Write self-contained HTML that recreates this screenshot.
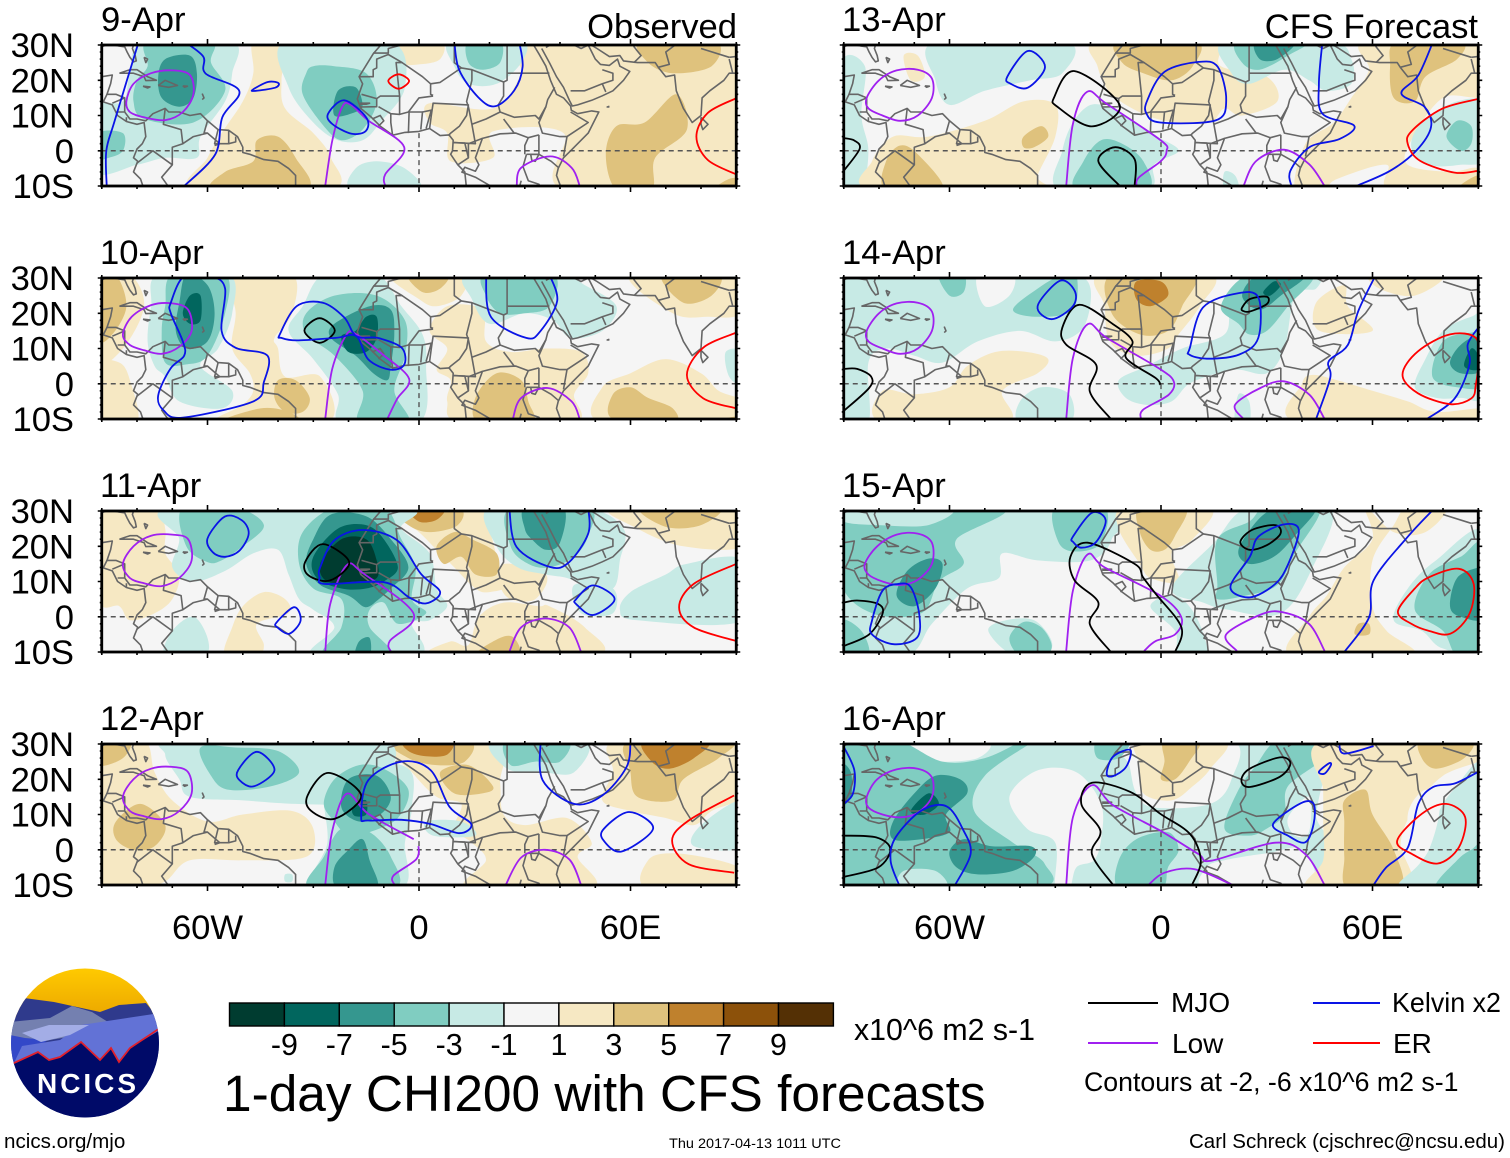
<!DOCTYPE html>
<html lang="en">
<head>
<meta charset="utf-8">
<title>1-day CHI200 with CFS forecasts</title>
<style>
html,body{margin:0;padding:0;background:#fff;}
svg{display:block;}
text{font-family:"Liberation Sans",sans-serif;fill:#000;}
</style>
</head>
<body>
<svg id="chart" xmlns="http://www.w3.org/2000/svg" width="1510" height="1158" viewBox="0 0 1510 1158">
  <defs>
    <clipPath id="logo-clip"><ellipse cx="85" cy="1043" rx="74" ry="74.5"/></clipPath>
    <linearGradient id="logo-sky" x1="0" y1="0" x2="0" y2="1"><stop offset="0" stop-color="#ffca00"/><stop offset="1" stop-color="#eba600"/></linearGradient>
  </defs>
  <g id="panels"></g>
  <g font-size="34.6">
    <text x="101" y="31">9-Apr</text>
    <text x="100" y="264">10-Apr</text>
    <text x="100" y="497">11-Apr</text>
    <text x="100" y="730">12-Apr</text>
    <text x="842" y="31">13-Apr</text>
    <text x="842" y="264">14-Apr</text>
    <text x="842" y="497">15-Apr</text>
    <text x="842" y="730">16-Apr</text>
    <text x="737" y="38" text-anchor="end">Observed</text>
    <text x="1478" y="38" text-anchor="end">CFS Forecast</text>
  </g>
  <g id="colorbar"></g>
  <text x="854" y="1040" font-size="30.3">x10^6 m2 s-1</text>
  <text x="223" y="1111" font-size="51.4">1-day CHI200 with CFS forecasts</text>
  <g font-size="28">
    <line x1="1088" y1="1003" x2="1158" y2="1003" stroke="#000" stroke-width="2"/>
    <text x="1171" y="1012">MJO</text>
    <line x1="1313" y1="1003" x2="1380" y2="1003" stroke="#0a14e6" stroke-width="2"/>
    <text x="1392" y="1012" textLength="109" lengthAdjust="spacingAndGlyphs">Kelvin x2</text>
    <line x1="1088" y1="1043" x2="1158" y2="1043" stroke="#a020f0" stroke-width="2"/>
    <text x="1172" y="1053">Low</text>
    <line x1="1313" y1="1043" x2="1380" y2="1043" stroke="#f00" stroke-width="2"/>
    <text x="1393" y="1053">ER</text>
    <text x="1084" y="1091" font-size="26.7">Contours at -2, -6 x10^6 m2 s-1</text>
  </g>
  <text x="4" y="1148" font-size="20.6">ncics.org/mjo</text>
  <text x="669" y="1148" font-size="14" textLength="172" lengthAdjust="spacingAndGlyphs">Thu 2017-04-13 1011 UTC</text>
  <text x="1189" y="1148" font-size="20.6" textLength="316" lengthAdjust="spacingAndGlyphs">Carl Schreck (cjschrec@ncsu.edu)</text>
  <g clip-path="url(#logo-clip)">
    <rect x="10" y="968" width="150" height="50" fill="url(#logo-sky)"/>
    <polygon points="10,1010 24,998 54,1002 100,1012 119,1005 146,1003 160,1020 160,1120 10,1120" fill="#2f3a8c"/>
    <polygon points="10,1022 50,1018 72,1006 92,1012 108,1022 80,1035 50,1040 10,1050" fill="#7480b0"/>
    <polygon points="10,1035 25,1038 48,1040 14,1064 10,1064" fill="#3348c8"/>
    <polygon points="81,1025 160,1013 160,1032 130,1048 119,1062 111,1048 100,1060 81,1042 60,1057 49,1060 38,1052 14,1063 22,1046 60,1040" fill="#6272d6"/>
    <polygon points="22,1033 49,1025 89,1025 70,1035 41,1042" fill="#a3ade6"/>
    <polygon points="10,1064 14,1063 38,1052 49,1060 60,1057 81,1042 100,1060 111,1048 119,1062 130,1048 160,1030 160,1120 10,1120" fill="#000a68"/>
    <polyline points="10,1064 14,1063 38,1052 49,1060 60,1057 81,1042 100,1060 111,1048 119,1062 130,1048 160,1028" fill="none" stroke="#e0202c" stroke-width="1.8"/>
    <text x="37" y="1093" font-size="28" font-weight="bold" style="fill:#fff" textLength="99" lengthAdjust="spacing">NCICS</text>
  </g>
</svg>
<script>
/* ---------- axis values ---------- */
const lonMajorTicks = [-60, 0, 60];
const lonTickLabels = ['60W', '0', '60E'];
const latMajorTicks = [30, 20, 10, 0, -10];
const latTickLabels = ['30N', '20N', '10N', '0', '10S'];

/* ---------- colour scale ---------- */
const colorbarTicks = [-9, -7, -5, -3, -1, 1, 3, 5, 7, 9];
const colorbarColors = ['#003c30', '#01665e', '#35978f', '#80cdc1', '#c7eae5', '#f5f5f5', '#f6e8c3', '#dfc27d', '#bf812d', '#8c510a', '#543005'];

/* ---------- map outlines [lon,lat,...] ---------- */
const coastlines = [
 [-80,31,-81,30,-81.3,29,-80.5,27,-80.2,25.5,-81,25.2,-82,26.5,-82.8,28,-83.5,29.5,-85,29.7,-88,30.3,-90,29.5],
 [-90,21,-87,21.5,-87.5,19,-88.5,16,-86,16,-83.5,15,-83.5,11,-82,9,-80,9,-77.5,8.5,-75.5,10.5,-72,12,-71,11,-68,11,-65,10,-62,10.5,-60,8.5,-57,6,-54,5.8,-51.5,4,-50,1,-50,-0.5,-48,-1,-44,-2.5,-40,-3,-37,-5,-35,-7,-35,-11],
 [-90,14,-87,13,-85.5,10,-83,8.3,-80,7.5,-78,8,-77.5,4,-78.5,2,-80,0.5,-81,-2,-79.8,-3,-81,-6,-79,-8,-78,-11],
 [-10,31,-13,27.5,-17,21,-16,19,-17.5,14.7,-16.5,12,-13.5,9.5,-11,7,-7.5,4.4,-4,5.2,0,5.5,3,6.3,6,4.3,8.5,4.5,9.7,3,9.5,0,9,-1,11,-4,13,-6,13.5,-11],
 [40.5,-11,39,-7,39.5,-5,41,-2,43,0,48,5,51,11,49,11.3,45,10.5,43.2,11.5,43,12.7,41,15,39,16,37.3,20,36,24,34,27.5,32.5,30,32.3,31],
 [34.8,29,37,25,39,21,41,18,42.8,14,43.5,12.7,45,13,49,14.3,52,15.6,55,17,58,20,59.8,22.5,57,24,56.3,26,54,24.2,51.5,24.5,50,26,48.5,29,48,30,50,31],
 [48,30.5,50.5,29,54,26.7,57,27,58,25.5,62,25,67,25,68,23.5,70,21,72.5,21.5,73,17,75,12,77.5,8,80,10,80.3,15,82.5,17,86.5,20,88,22,91,22],
 [80,9.5,82,7.5,80.5,6,80,7.5,80,9.5],
 [31.7,-1,34,-1,33,-3,32,-2.7,31.7,-1],
 [-85,22,-82,23,-80,23,-77,21,-74.5,20,-77.5,19.9,-78,21,-81,22,-85,22],
 [-74,18.5,-72,20,-68.5,18.5,-71,18,-74,18.5],
 [-78.3,18.3,-76.3,18.1,-77,17.8,-78.3,18.3],
 [-67,18.4,-65.7,18.3,-66.5,18,-67,18.4],
 [-78,26.5,-77.5,25,-77,26,-78,26.5],
 [-61.5,16.2,-61,15,-61.5,14.5],
 [54,12.6,53.4,12.4,54,12.4]
];
const borders = [
 [-17,21,-13,21,-13,23,-12,23.5,-12,26,-8.7,27.3,-4.8,25,-6.5,25,-5.5,15.5,-11,15.5,-12,14.8,-16.3,16],
 [-13,27.7,-8.7,27.7,-8.7,29,-5,30,-1,32],
 [-4.8,25,1,21,3.3,19,3.3,16,4,15.7],[3.3,19,6,19.4,12,23.5,10,25,10,31],
 [15,23,15,20,13.5,14,14,12.5],[12,23.5,15,23,24,19.5,24,15.5,22.5,13,23,11],
 [25,31,25,20,24,19.5],[25,22,37,22],
 [3,6.3,3.5,10,4,13.5,14,13,13.5,10,11.5,7,9,5,8.5,4.5],
 [-5.5,10.3,-3,11,0,15,4,15.5],[-11.5,12.5,-8,10.5,-5.5,10.3,-5.5,15.5],
 [-3,5,-2.8,11,1,11,0.5,6],[2,6.3,3.5,11.5,1,11],[-7.5,4.4,-8,8,-8,10.5],
 [-12,14.8,-12,12.5,-16.7,12.4],[-13.3,9,-11,10,-10,8.5,-11.5,7],
 [-16.7,13.5,-14,13.5,-15,13.2,-16.7,13.2],
 [23,11,27,9.5,33,10,34,9,36,12.5,36.5,14.5,38.5,18],
 [36,12.5,34,8,35,5,40,4,42,4,48,8,43,11],[42,4,41,-1.6],
 [34,4.5,34,1,34,-1,37.5,-3,39.5,-4.7],
 [30.5,-1,34,-1],[30.5,-1,29.5,-4.5,31,-8.5,34,-9.5,35,-11.5],
 [30,-1,30,1.5,31,3.7,34,4.5],
 [12.2,-6,13,-4.7,16,-5.8,17,-4,16,-2,18,3.5,23,4.8,27.5,5,31,3.7],
 [11,-4,14,-2,14,2,18,3.5],[9.8,2.3,16,2,15,7.5,14,12.5],[9.8,2.3,13,2.2,14,-2],
 [15,7.5,19,9,23,11],[24,9,27,5],[12,-6,16,-7.5,22,-11,22,-13],[22,-11,28,-12,29,-8.5],
 [43,17,47,17,52,19,55,20,55,22,52,23],[52,19,53,16.7],
 [61,25,63,27,61,29.5,61,31],[36,29.3,38,30.5,42,31],[42,31,46,29,48,30],
 [68,23.7,71,24.5,70,28,74,31],[80,29,88,26.5],[88,26,89,22],[88,26.5,92,27],
 [-72,12,-72.5,7.5,-67.5,6,-67,2,-70,1,-70,-4],[-80,-3.5,-75.5,0,-70,-4,-73,-7.5,-70.5,-11],
 [-60,8.5,-61,5,-60,5,-56.5,2,-58,1.5],[-67,2,-64,4,-60,5],
 [-57,6,-58,2,-54,2,-54,5.8],[-52,4,-52,2.5,-54,2],[-70.5,-11,-66,-10,-60,-13],
 [-92,18,-91,16,-92,14.5],[-88.5,16,-89.5,14],[-83.5,15,-87,13.5],[-85.5,11,-83.7,11],[-83,8.3,-83,9.5]
];

/* ---------- shaded anomalies: [value, lon,lat, lon,lat, ...] ---------- */
const fillsApr09 = [
 [2,30,31,92,31,92,-11,41,-11,41,5,21,5.5,21,-2,9,-3,8,5,3,8,3,13.5,21,12,29,22],
 [2,-47,31,-38,31,-39,20,-38,12,-30,5,-25,-2,-25,-11,-64,-11,-60,-2,-56,5,-50,14,-47,22],
 [2,-8,31,6,31,6,26,0,24.5,-5,25],
 [4,-58,-11,-55,-6,-47,-3,-46,3,-40,4,-35,-2,-32,-11],
 [4,63,31,84,31,83,24,72,22,65,25],
 [4,73,16,76,6,67,-2,66,-11,56,-11,53,-1,56,7,64,8],
 [4,84,-11,88,-8,92,-8,92,-11],
 [-2,-78,31,-53,31,-53,22,-55,14,-62,4,-63,-2,-72,-2,-80,-4,-92,-6,-92,12,-84,14,-82,22],
 [-4,-77,31,-59,31,-59,25,-55,17,-64,8,-78,9,-81,14,-80,20,-77,24],
 [-6,-72,26,-65,27,-63,22,-64,15,-68,12.5,-73,15,-74,21],
 [-4,-91,5,-84,5,-84,0,-88,-2,-91,-2],
 [-2,-38,31,-8,31,-4,18,-11,8,-16,3,-23,3,-30,8,-37,18],
 [-4,-30,24,-24,24,-15,22,-12,14,-16,6,-22,3,-27,7,-33,16,-32,22],
 [-6,-23,17,-18,18,-16,13,-18,11,-24,10],
 [-2,-19,-11,-18,-5,-12,-3,-4,-5,0,-11],
 [-2,9,31,29,31,29,25,22,19,14,19,10,24],
 [-4,14,31,23,31,23,25,18,23,14,25]
];
const fillsApr10 = [
 [2,-91,31,-82,31,-78,22,-84,10,-91,7],
 [4,-91,31,-86,31,-83,22,-87,14,-91,13],
 [2,-91,5,-85,6,-82,1,-80,-11,-91,-11],
 [2,-53,31,-36,31,-36,20,-41,13,-40,10,-38,2,-28,2,-26,-11,-57,-11,-50,-6,-47,-2,-48,3,-53,10,-52,20],
 [4,-40,1,-35,1,-31,-4,-33,-8,-38,-8,-41,-4],
 [4,-56,-11,-45,-7,-37,-8,-35,-11],
 [2,3,15,8,22,18,21,19,12,26,9,36,10,46,9,48,3,44,-3,44,-11,12,-11,8,-5,9,1,5,4,8,10],
 [4,17,-11,16,-4,22,3,29,1,31,-5,32,-11],
 [2,-8,31,12,31,12,25,5,22,0,24],
 [4,-3,31,8,31,6,27,1,26],
 [2,60,31,91,31,91,20,82,19,72,20],
 [4,69,31,85,31,83,25,75,23],
 [2,52,-11,52,-1,60,3,70,7,80,3,85,-2,92,-5,92,-11],
 [4,55,-10,55,-3,60,-1,65,-4,72,-7,72,-11],
 [4,82,-11,92,-9,92,-11],
 [-2,87,9,92,9,92,0,88,2],
 [-2,-74,31,-54,31,-53,20,-57,10,-62,5,-53,-2,-56,-7,-68,-5,-72,2,-75,5,-77,12,-76,22],
 [-4,-70,31,-55,31,-55,20,-60,8,-66,5.5,-72,6,-73,15,-72,22],
 [-6,-66,31,-60,28,-58,20,-60,12,-66,10,-69,15,-68,23],
 [-8,-65,25,-62,25,-62,18,-65,17,-67,20],
 [-2,-27,31,-12,31,-5,22,1,14,2,5,0,-11,-22,-11,-23,-3,-30,7,-37,15,-33,22],
 [-4,-24,25,-12,25,-4,18,-4,8,-7,-2,-3,-11,-17,-11,-16,-2,-24,8,-32,14,-32,20],
 [-6,-14,22,-8,21,-7,14,-8,5,-9,1,-13,3,-18,8,-25,13,-24,17],
 [-8,-15,19,-12,19,-12,13,-15,9,-20,9,-22,13.5,-18,15],
 [-2,14,31,40,31,47,28,56,22,52,15,43,13,38,18,30,20,20,17,15,24],
 [-4,19,31,38,31,37,22,30,20,23,20,19,25]
];
const fillsApr11 = [
 [2,-91,31,-75,31,-72,25,-72,18,-68,12,-70,5,-75,1,-82,-1,-85,3,-91,5],
 [2,-55,-11,-53,-3,-50,3,-44,7,-38,5,-37,1,-46,-2,-44,-8,-46,-11],
 [-2,-72,-11,-70,-4,-64,0,-60,-6,-61,-11],
 [2,-8,31,18,31,20,25,23,14,26,9,20,7,16,8,10,14,5,19,0,24],
 [2,5,-11,9,-7,14,-8,17,0,24,4,34,3,37,3,47,-3,50,-11],
 [2,24,15,36,12,33,5,26,5,23,9],
 [4,16,-11,23,-6,27,-6,28,-11],
 [4,5,20,10,24,15,22,22,18,22,12,16,12,12,17,7,15],
 [4,-7,31,11,31,11,26,3,24,-3,26],
 [6,-3,31,7,31,5,27.5,0,27],
 [2,55,31,92,31,92,20,75,20,62,25],
 [4,63,31,85,31,80,26,70,25.5],
 [-2,92,16,76,15,70,12,60,7,57,2,62,-1,92,-1],
 [-2,-70,31,-5,31,-5,25,3,18,5,8,8,3,3,-1,-2,-2,0,-11,-30,-11,-24,-3,-30,2,-34,5,-37,12,-40,19,-47,18,-55,13,-64,10,-70,14,-68,22],
 [-4,-67,31,-52,31,-44,26,-50,20,-56,16,-60,15.5,-66,20],
 [-4,-33,24,-24,31,-10,31,-5,22,-1,14,-2,5,2,1,-6,-2,-10,4,-14,2,-14,-3,-8,-11,-27,-11,-22,-3,-22,5,-30,8,-34,15],
 [-6,-25,29,-15,28.5,-8,22,-3,14,-8,8,-12,4.5,-14,3,-16,3,-20,6,-28,9,-32,15,-30,22],
 [-8,-23,25,-15,26,-10,22,-6,14,-10,10,-15,8,-22,8,-29,11,-30,17],
 [-10,-22,22,-15,22,-12,16,-12,11,-18,10,-26,10,-28,15],
 [-6,-18,-11,-17,-7,-14,-6,-14,-11],
 [-2,20,31,47,31,58,25,57,16,55,8,47,9,42,11,36,12,28,14,22,20],
 [-4,26,31,48,31,48,23,44,17,37,14,31,15,26,20],
 [-6,30,31,41,31,40,21,36,19,32,22,30,25],
 [-2,44,9,55,8,55,1,46,1]
];
const fillsApr12 = [
 [2,-91,31,-78,31,-75,22,-70,14,-60,8,-50,10,-36,11,-30,6,-32,-2,-50,-3,-65,-3,-72,-9,-80,-11,-91,-11,-91,10],
 [4,-91,31,-82,31,-84,26,-91,24],
 [4,-86,8,-79,13,-72,7,-75,1,-81,0,-86,3],
 [2,-9,31,22,31,23,19,24,10,30,7,42,9,49,2,45,-2,49,-11,14,-11,19,-3,15,2,10,6,12,13,5,15,-2,22],
 [4,-8,31,14,31,13,25,5,24,-3,26],
 [6,-4,31,9,31,8,27,2,26.5,-3,28],
 [4,6,22,14,24,21,18,18,16,10,16],
 [2,56,31,92,31,92,16,83,11,78,7,70,9,60,11,52,14,55,22],
 [4,60,31,88,31,85,26,75,20,72,14,62,15,60,22],
 [6,64,31,82,31,78,26,71,23,66,25],
 [2,65,-11,65,-3,72,-1,85,-3,92,-6,92,-11],
 [-2,78,1,80,7,92,14,92,1],
 [-2,-68,31,-10,31,-14,15,-22,13,-35,13,-50,14,-65,15,-68,20,-72,27],
 [-4,-62,29,-52,29,-40,28,-34,22,-42,18,-54,17,-59,21],
 [-2,-18,25,-3,23,-2,12,-4,2,-5,-11,-30,-11,-26,2,-27,15,-24,20],
 [-4,-24,20,-17,24,-10,23,-3,17,-6,9,-14,5,-20,4,-24,8,-27,13],
 [-4,-22,6,-14,5,-8,-2,-7,-11,-31,-11,-27,-2],
 [-6,-20,20,-12,21,-8,15,-11,10,-17,8,-22,12],
 [-8,-18,13,-15,14,-15,10,-18,9.5,-19,11],
 [-6,-23,-11,-24,-5,-20,0,-16,3,-14,-3,-12,-11],
 [-2,21,31,47,31,44,22,35,22,25,23],
 [-4,25,31,42,31,40,25,33,25,26,24],
 [-2,2,8,12,8,16,4,4,4],
 [-2,-38,-7,-36,-7,-36,-9,-38,-9]
];
const fillsApr13 = [
 [-2,-91,24,-84,24,-85,10,-83,0,-85,-11,-91,-11],
 [-2,-64,31,-27,31,-28,22,-37,20,-50,17,-60,13,-64,20],
 [2,-82,-11,-82,-3,-76,4,-66,4,-50,8.5,-39,14,-30,13,-30,4,-35,-7,-35,-11],
 [4,-78,-11,-78,-3,-74,1.5,-69,-1,-62,-11],
 [4,-39,1,-39,4,-34,7,-32,4,-36,1],
 [2,-73,27,-69,27,-67,21,-71,20],
 [-2,-29,-11,-28,0,-25,8,-20,13,-14,12,-7,8,-1,4,5,0,-2,-4,-4,-11],
 [-4,-24,-11,-22,-3,-17,3,-11,2,-5,-3,-4,-11],
 [2,-18,31,14,31,17,24,30,21,33,14,23,10,18,12,14,8,5,8,-4,10,-14,16,-18,24],
 [4,-12,31,10,31,9,24,3,20,-5,22,-11,25],
 [2,58,31,92,31,92,16,80,15,71,3,70,-4,82,-6,90,-5,92,-11,65,-11,64,-4,50,-8,46,-11,38,-11,41,2,49,8,54,15,59,23],
 [4,67,31,85,31,84,26,75,21,72,14,66,15,65,24],
 [4,84,-11,90,-7,92,-11],
 [-2,18,31,48,31,54,26,54,19,47,17,42,20,35,23,25,19,20,22],
 [-4,22,31,41,31,36,27,28,23,23,25],
 [-6,27,31,38,31,33,26,28,26],
 [-2,71,1,74,8,84,14,92,13,92,-2,85,-4,76,-4],
 [-4,81,4,84,8.5,88,7,88,2,85,0],
 [-2,18,-6,21,-7,22,-11,18,-11]
];
const fillsApr14 = [
 [-2,-91,31,-70,31,-40,31,-25,31,-20,27,-22,16,-30,12,-40,15,-52,12,-62,6,-70,8,-78,10,-83,6,-83,-11,-91,-11],
 [0,-52,31,-42,31,-43,25,-50,22],
 [-4,-63,31,-56,31,-56,26,-60,25],
 [-4,-42,21,-35,27,-28,31,-24,31,-25,21,-35,19],
 [2,-79,-11,-79,-2,-70,-3,-60,-1,-55,5,-47,9,-38,9,-32,7,-35,3,-45,-2,-44,-11],
 [-2,-40,-11,-40,-5,-34,-1,-26,-3,-26,-11],
 [2,-17,31,14,31,11,22,5,14,2,10,-5,8,-11,9,-15,13,-16,22],
 [4,-14,31,9,31,6,22,2,15,-6,14,-14,20],
 [6,-7,29,0,29,2,25,-3,22,-7,24],
 [-2,-12,1,-4,5,6,10,18,14,20,23,27,31,44,31,44,27,38,25,35,10,30,3,22,4,16,3,8,0,3,-5,-4,-6,-10,-4],
 [-4,17,22,25,31,43,31,36,22,30,15,25,14,22,17],
 [-6,23,25,28,31,41,31,34,25,28,21],
 [-8,29,26,32,29,34,28,31,25],
 [2,45,15,44,23,52,28,53,22,60,15],
 [2,60,31,80,31,72,25,62,27],
 [2,39,-11,40,0,43,2.5,50,1,60,-2,70,-5,78,-8,92,-7,92,-11],
 [-2,72,-1,75,7,80,15,88,19,92,19,92,-3,85,-4,78,-4],
 [-4,77,2,80,12,88,14.5,92,14,92,0,84,-1],
 [-6,82,6,85,11,90,13,91,4,85,3],
 [-8,86,5,88,10,90,8,90,4],
 [-2,21,-11,22,-3,25,-5,25,-11]
];
const fillsApr15 = [
 [-2,-91,31,-15,31,-14,22,-20,16,-35,16,-45,18,-46,11,-55,8,-65,-2,-72,-11,-91,-11],
 [-4,-91,31,-45,31,-58,22,-56,15,-63,10,-68,1,-82,1,-91,10],
 [-2,-91,31,-60,31,-66,26,-80,26,-90,27],
 [-6,-75,6,-72,13,-66,16.5,-62,15,-64,8,-70,3],
 [-4,-91,-1,-85,-4,-83,-11,-91,-11],
 [-2,-49,-4,-44,-1,-36,-1,-31,-7,-33,-11,-42,-11],
 [-4,-43,-6,-39,-1.5,-34,-3,-31,-8,-33,-11,-40,-11],
 [-4,-30,31,-16,31,-17,21,-24,18.5,-29,21],
 [-2,-3,3,4,6,10,0,13,-11,5,-11,4,-4],
 [2,-10,31,14,31,9,22,3,18,5,10,-3,11,-6,15,-12,25],
 [4,-6,31,7,31,4,23,1,19,-3,19,-6,24],
 [-2,3,8,15,21,25,31,48,31,43,14,34,1,19,2,12,4],
 [-4,16,9,16,22,25,27,30,31,45,31,38,18,33,9,24,6,16,5],
 [-6,22,19,28,28,34,31,44,31,38,23,32,17,25,15],
 [2,58,31,60,22,52,14,47,6,42,0,37,-11,71,-11,64,-4,60,3,60,16,66,26,70,31,81,31,75,24,66,24],
 [4,56,-2,59,-2,59,-5,55,-5],
 [-2,66,-1,70,8,78,16,92,24,92,-9,80,-9,74,-4],
 [-4,72,2,76,12,85,17,92,20,92,-11,84,-11,80,-4],
 [-6,82,3,84,11,90,14,92,14,92,0,85,0]
];
const fillsApr16 = [
 [-2,-91,31,52,31,47,22,44,10,42,-11,-91,-11],
 [0,-75,31,-50,31,-52,26,-65,25,-72,27],
 [0,-43,15,-35,22.5,-24,22,-17,13,-17,3,-19,-3,-24,-5,-26,-11,-30,-11,-30,2,-38,6],
 [0,-11,31,20,31,20,20,14,13,-2,12,-7,16,-9,24],
 [0,13,-11,13,-5,18,-3,30,-1,40,0,42,-11],
 [0,36,9,42,15,42,5,38,4],
 [-4,-91,31,-75,31,-62,25,-50,26,-39,31,-36,31,-50,21,-53,11,-42,2,-33,-4,-36,-11,-91,-11],
 [-2,-74,-11,-73,-6,-64,-6,-61,-11],
 [-6,-76,8,-70,16,-64,21,-57,20,-55,16,-61,10,-60,5,-68,3,-76,3],
 [-8,-71,11,-66,16,-63,13,-67,10],
 [-6,-60,-0.5,-56,3,-48,1,-37,1,-36,-2,-42,-6,-52,-7,-58,-5],
 [-6,-91,24,-88,22,-88,15,-91,13],
 [-4,-12,-11,-12,-3,-7,3,2,5,5,0,2,-5,0,-11],
 [-4,18,6,22,17,27,24,33,31,44,31,46,26,36,18,35,10,30,6,25,4],
 [-4,-18,31,-9,31,-12,26,-18,26],
 [2,-6,31,18,31,14,23,9,18,3,14,-5,16,-6,24],
 [4,1,31,11,31,8,25,4,20,0,20,1,25],
 [2,46,31,92,31,92,26,80,21,72,12,68,2,70,-11,42,-11,46,-3,46,8,46,17],
 [4,74,31,88,31,86,26,78,23,74,26],
 [4,53,-11,52,-2,52,8,52,14,58,17,60,10,66,0,68,-11],
 [-2,68,-11,74,-3,78,9,83,17,92,24,92,-11],
 [-4,78,-11,84,-3,88,0,92,2,92,-11],
 [0,70,10,75,17,79,12,76,0,72,-3]
];

/* ---------- contours [lon,lat,...]; first point repeated = closed loop ---------- */
const lowApr09 = [[-83,14,-81,19,-76,22,-70,22.8,-65,21.5,-64,16,-67,11,-72,8.7,-78,9.5,-82,11,-83,14],[-26.6,-10,-24.6,2.9,-21.8,12.4,-19.4,13.1,-14.4,8.6,-4.2,1,-9.6,-6.7,-9.6,-10],[27.7,-10,29,-4.8,37.2,-1.6,43.3,-4.8,45.6,-10]];
const kelvinApr09 = [[-88.6,-10,-88.7,0,-86.3,8.6,-79.5,31],[-66.6,31,-61.2,26.7,-60.5,21.9,-51,17,-55.8,9.5,-57.8,-1,-66.6,-10],[-47.2,17.3,-42.9,19.5,-39.9,19.2,-40.8,17.9,-46.3,17,-47.2,17.3],[-25.8,10.5,-21.2,14.3,-15,9.5,-15,5.7,-19.1,4.8,-24.6,7.6,-25.8,10.5],[10,31,11.4,22.9,16.8,15.2,21.6,12.6,27,17.1,29.4,23.8,28.4,31]];
const erApr09 = [[-8.7,19.8,-5.8,21.7,-2.8,19.8,-5.8,17.6,-8.7,19.8],[90,14.9,81.9,10.7,78.7,4,81.9,-2.6,90,-6.7]];
const mjoApr09 = [];

const lowApr10 = [[-84,14,-81.5,19,-76,22.3,-70,22.8,-65.5,21,-64.5,15,-68,10.5,-73,8.5,-78,9.5,-82,11,-84,14],[-26.6,-10,-24.6,4.3,-20.5,14,-17.8,14,-10.3,8.3,-2.8,1.4,-6.2,-4.3,-9,-10],[26.6,-10,29,-4,36.5,-1.2,43.3,-5,45.6,-10]];
const kelvinApr10 = [[-70.4,23,-66.6,30.5,-59,30.5,-55,27,-56,15,-52,10.2,-43,8,-44,0.5,-47,-5,-67,-9.6,-72.5,-7.5,-74,-3.3,-70.5,4.3,-66.6,8,-67,12,-70.4,20,-70.4,23],[-39.5,14,-34.7,22,-27.3,23,-21.2,18.8,-17.8,13.5,-11.7,13,-4.9,10.2,-4.2,5.4,-8.3,4,-14.4,6.9,-17.8,13.5,-23.7,13,-34.7,12.3,-39,13,-39.5,14],[19,31,20.4,19,30.4,13,34.5,15,39.2,23.5,37,31]];
const erApr10 = [[90,14.5,80.6,10.2,76,2.5,80.6,-4.1,90,-7]];
const mjoApr10 = [[-32.5,15.1,-28.2,18.6,-23.9,15.1,-28.2,11.6,-32.5,15.1]];

const lowApr11 = [[-84,15,-81,20,-76,23,-70,23.3,-65.5,22,-64.5,16,-68,11,-73,8.7,-78,9.5,-82,11,-84,15],[-26.6,-10,-25.2,3.6,-20.5,14.6,-15.7,12.2,-1.5,0.8,-8.3,-6.9,-7.9,-10],[25.6,-10,29,-3,35.8,-0.5,42.6,-3,46,-10]];
const kelvinApr11 = [[-60,22.2,-55.1,28.4,-50.3,27.4,-48.3,23.6,-50.9,18.8,-55,17,-58.5,18.3,-60,22.2],[-28,14.1,-24,21.7,-16,24.6,-6.2,21.7,0.5,12.2,6,7,2,3.8,-2.8,5.5,-10,9.8,-26.6,9.3,-28.2,11.2,-28,14.1],[25.6,31,27.7,19.8,37.2,14.1,42.6,15.5,48,23.6,48,31],[44.6,5,49.4,8.9,55.5,5,49.4,0.5,44.6,3.6,44.6,5],[-40.4,-1.6,-35.4,2.7,-33.6,-1.1,-36.8,-4.8,-40.2,-3,-40.4,-1.6]];
const erApr11 = [[90,15,77.9,9.3,73.8,2.7,77.9,-3,90,-6.9]];
const mjoApr11 = [[-32.3,15.5,-27.3,20.6,-19.8,15.5,-25.2,10.3,-31.3,11.7,-32.3,15.5]];

const lowApr12 = [[-84,15,-81,20,-76,23,-70,23.5,-65.5,22,-64.5,16,-68,11,-73,8.7,-78,9.5,-82,11,-84,15],[-26.6,-10,-24.6,5.4,-20.5,15.9,-14.4,10.2,-1.5,3],[-0.1,1,-0.8,-2.7,-7.3,-7.4,-6.9,-10],[24.6,-10,29,-2.2,35.8,0,42.6,-2.7,46,-10]];
const kelvinApr12 = [[-51.3,22.6,-46,27.8,-41,22.6,-46.8,18,-50.9,19.7,-51.3,22.6],[-16.4,9.2,-14.4,19.7,-4.9,25,3.3,22.6,8.7,12.1,14.8,7.3,11.4,4.7,3.3,7.3,-4.9,8.5,-14.4,8.3,-16.4,9.2],[34.5,31,35.1,19.7,44,13,52,15.4,58.9,23.5,60,31],[52.4,5.9,59.6,10.7,66.4,6,57.5,-0.5,52.4,2.6,52.4,5.9]];
const erApr12 = [[89.4,15.4,76.5,8.3,71.8,2.6,76.5,-4.1,89.4,-6.5]];
const mjoApr12 = [[-31.6,15.4,-25.7,21.8,-16.4,15.4,-23.9,8.8,-30.7,11.1,-31.6,15.4]];

const lowApr13 = [[-83.5,15,-80,20,-75,22.8,-69,23,-65,20.5,-65,15,-69,10,-74,8.5,-79,10,-83,12,-83.5,15],[-26.9,-10,-25,7.6,-21,16.7,-15.4,13.3,0,2.9,1.6,0,0,-2.9,-6.3,-7.6,-6.9,-10],[23.4,-10,27,-2.9,34.9,0.3,42,-3.8,46.4,-10]];
const kelvinApr13 = [[-43.6,21,-37.8,28.3,-32.9,23.8,-37.8,17.9,-42.6,19,-43.6,21],[-3.9,14.3,1,22.4,10.7,25.2,16.1,23.8,18.5,14.3,15.5,8.6,-0.2,8,-4.1,10.5,-3.9,14.3],[45.8,31,44.8,19,45.8,10.5,54.8,7.1,50.6,3.3,42.1,1,36.7,-5.7,37,-10],[55.4,-10,65,-5.7,72.4,0,76.6,6.7,74.8,12.4,68.2,16.2,73,21.4,77.2,31]];
const erApr13 = [[90,14.7,79.7,11.9,71.2,5.7,70,1.9,73.6,-2.9,83.3,-6.2,90,-5.7]];
const mjoApr13 = [[-30.3,15.2,-24.5,22.6,-11.7,12.9,-19.6,6.9,-29.3,12.4,-30.3,15.2],[-11.7,-10,-17.8,-2.9,-13,1,-7.5,-2.4,-7.5,-10],[-90,-5.7,-85.5,0.5,-87,2.9,-90,3.6]];

const lowApr14 = [[-83.5,15,-80,20,-75,22.8,-69,23,-65,20.5,-65,15,-69,10,-74,8.5,-79,10,-83,12,-83.5,15],[-26.9,-10,-25,7.3,-20.8,16.9,-15.4,13,-0.8,4.5,3.6,0.7,2.2,-3.1,-5.1,-7.4,-5.7,-10],[23.4,-10,21,-6,28.2,-1.2,34.9,0.7,42.1,-3.1,46.4,-10]];
const kelvinApr14 = [[-35,22,-28.7,29.2,-24.5,26.4,-25,22,-31,18.3,-35,22],[8.2,10.2,11.9,21.6,21.5,25.6,27.6,24.5,27.6,13,22.2,8.3,13,7.1,8,8.3,8.2,10.2],[61,31,56,20.7,53,11,47.6,6.4,48,1.6,44,-10],[75.4,-10,83.3,-4.2,87.5,5.4,87,11.1,90,15.9]];
const erApr14 = [[89.3,13,82,14,72.9,9.2,68.5,2.6,72.9,-2.7,82.1,-5.8,88.1,-4.1,89.3,-0.3,90,6,89.3,13]];
const mjoApr14 = [[-0.2,-0.3,-1.5,1.6,-9.9,7.3,-8.1,12.1,-13.6,16.9,-23.2,22.4,-28,15.9,-26.9,11.1,-18.4,5.4,-20.2,-2.2,-14.2,-10],[-90,-7.7,-82.8,-1.2,-82.2,2,-86.2,4.2,-90,4.2],[23,21.6,25.2,24,30,24.7,30,22.6,25.2,20.5,23.2,20.7,23,21.6]];

const lowApr15 = [[-84,15,-80.5,20,-75,23.3,-69,23.6,-65,21,-65,15,-69,10.5,-74,9,-79,10,-83,12,-84,15],[-26.9,-9.7,-25,7.4,-20.8,17.7,-16,14,-0.2,6,5.8,-0.2,4,-5,-1.5,-6.9,-4.8,-9.7],[21.5,-9.7,18.5,-5,28.8,0.8,34.9,1.2,42.1,-2.1,46.4,-9.7]];
const kelvinApr15 = [[-25,22.7,-19.6,29.5,-15.7,27.4,-18.4,21.2,-22.6,19.6,-24.9,21.2,-25,22.7],[-82,-1.1,-79,7.4,-74.7,9.3,-71,8.4,-68.6,0.8,-69.2,-5.9,-75.9,-7.8,-82,-5,-82,-1.1],[19.7,8.4,25.2,17,27.6,22.7,34.9,26.2,39.1,24.6,36.1,15,32.4,9.3,25.2,5.5,19.7,8.4],[52,-10,59,-0.2,60.3,10.3,70,22.7,77.8,31]];
const erApr15 = [[67.2,1.5,72,8,76,11.2,84.5,13.6,88.7,9.3,87.5,0.8,82.1,-4.8,76,-4,71,-2,67.2,1.5]];
const mjoApr15 = [[4,-10,5.8,-3,-1.5,6.5,-5.1,11.2,-7.5,15,-20.8,21,-25.7,17,-24.5,10.3,-17.8,4.1,-20.2,-2.1,-14.2,-10],[-90,-8.3,-82.8,-5,-79,0.8,-80.2,3.6,-86.2,4.6,-90,4],[22.5,21.2,25.8,24.6,32.4,26,33.9,23.6,30,20.3,25.2,19,22.5,21.2]];

const lowApr16 = [[-83.5,15,-80.5,20,-75,22.8,-69,23,-65,20.5,-65,15,-69,10.5,-74,9.2,-79,10,-83,12,-83.5,15],[-26.9,-10,-25,9.2,-19.6,18.3,-13.6,12.6,-0.2,5.4,10.6,-1.2,14.3,-3.1,32.4,2,40.9,-1.2,46.4,-10],[-3.6,-10,1,-6.5,9.4,-5.5,20.3,-10]];
const kelvinApr16 = [[-90,29.2,-87,22.6,-87.4,15.9,-90,13],[-74.3,-10,-76.7,-3.1,-75.3,3.5,-68,11.1,-60.8,12.3,-56,5.4,-54,-1.2,-58.4,-10],[-15.4,21.6,-13.6,26.4,-8.7,28.3,-9.9,23.5,-13.6,20.9,-15.4,21.6],[31.8,7.3,39.7,13.2,43.3,13,43.3,7.3,40.9,2.1,36,4,31.8,7.3],[44.8,22.1,47.6,24.5,48.2,24,46.4,21.6,44.8,22.1],[50.6,31,51.8,27.3,60.3,29.4],[60.3,-10,63.9,-5,70,0.6,73,13,77.2,17.8,83.3,18.8,90,22.1]];
const erApr16 = [[67,2.6,74,10.2,80.9,13,86.3,9.2,84.5,0.7,78.5,-3.9,71.2,-1.2,67,2.6]];
const mjoApr16 = [[8.8,-10,11.3,-3.1,8.2,4.5,-0.2,10.2,-8.7,16.4,-19.6,19,-22.6,13,-17.2,5.4,-19.6,-1.2,-13.6,-10],[-90,-7.7,-80.2,-5,-76.8,0.2,-80.8,3.5,-90,4],[22.8,19.7,25.2,23,33.7,26.2,36.7,24.5,33.7,20.7,25.2,17.8,22.8,19.7]];

/* ---------- panel registry ---------- */
const panelKeys = ['apr-09', 'apr-10', 'apr-11', 'apr-12', 'apr-13', 'apr-14', 'apr-15', 'apr-16'];
const panelFills = [fillsApr09, fillsApr10, fillsApr11, fillsApr12, fillsApr13, fillsApr14, fillsApr15, fillsApr16];
const panelLow = [lowApr09, lowApr10, lowApr11, lowApr12, lowApr13, lowApr14, lowApr15, lowApr16];
const panelKelvin = [kelvinApr09, kelvinApr10, kelvinApr11, kelvinApr12, kelvinApr13, kelvinApr14, kelvinApr15, kelvinApr16];
const panelEr = [erApr09, erApr10, erApr11, erApr12, erApr13, erApr14, erApr15, erApr16];
const panelMjo = [mjoApr09, mjoApr10, mjoApr11, mjoApr12, mjoApr13, mjoApr14, mjoApr15, mjoApr16];

/* ---------- drawing ---------- */
const NS = 'http://www.w3.org/2000/svg';
const PX_PER_DEG = 3.525;
const LON_MIN = -90, LON_MAX = 90, LAT_MIN = -10, LAT_MAX = 30;
const COLUMN_ORIGIN = [419, 1161];
const ROW_TOP = [45, 278, 511, 744];

function xAxis(col, lon) { return COLUMN_ORIGIN[col] + PX_PER_DEG * lon; }
function yAxis(row, lat) { return ROW_TOP[row] + (LAT_MAX - lat) * PX_PER_DEG; }
function colorFor(v) {
  let i = 0;
  while (i < colorbarTicks.length && v > colorbarTicks[i]) i++;
  return colorbarColors[i];
}
function node(tag, parent) {
  const el = document.createElementNS(NS, tag);
  parent.appendChild(el);
  return el;
}
function project(col, row, flat) {
  const out = [];
  for (let i = 0; i + 1 < flat.length; i += 2) out.push([xAxis(col, flat[i]), yAxis(row, flat[i + 1])]);
  return out;
}
function smoothPath(p, closed) {
  const n = p.length;
  const at = i => closed ? p[(i + n) % n] : p[Math.max(0, Math.min(n - 1, i))];
  let d = 'M' + p[0][0].toFixed(1) + ' ' + p[0][1].toFixed(1);
  const segs = closed ? n : n - 1;
  for (let i = 0; i < segs; i++) {
    const a = at(i - 1), b = at(i), c = at(i + 1), e = at(i + 2);
    d += 'C' + (b[0] + (c[0] - a[0]) / 6).toFixed(1) + ' ' + (b[1] + (c[1] - a[1]) / 6).toFixed(1) + ' ' +
      (c[0] - (e[0] - b[0]) / 6).toFixed(1) + ' ' + (c[1] - (e[1] - b[1]) / 6).toFixed(1) + ' ' +
      c[0].toFixed(1) + ' ' + c[1].toFixed(1);
  }
  return d + (closed ? 'Z' : '');
}
function contourPath(col, row, flat) {
  const closed = flat.length > 4 && flat[0] === flat[flat.length - 2] && flat[1] === flat[flat.length - 1];
  const pts = project(col, row, closed ? flat.slice(0, -2) : flat);
  return { d: smoothPath(pts, closed) };
}

const panelsRoot = document.getElementById('panels');
const defs = document.querySelector('defs');

panelKeys.forEach((key, idx) => {
  const col = idx < 4 ? 0 : 1;
  const row = idx % 4;
  const left = xAxis(col, LON_MIN), right = xAxis(col, LON_MAX);
  const top = yAxis(row, LAT_MAX), bottom = yAxis(row, LAT_MIN);

  const clip = node('clipPath', defs);
  clip.setAttribute('id', 'clip-' + key);
  const clipRect = node('rect', clip);
  clipRect.setAttribute('x', left);
  clipRect.setAttribute('y', top);
  clipRect.setAttribute('width', right - left);
  clipRect.setAttribute('height', bottom - top);

  const panel = node('g', panelsRoot);
  
  

  const plot = node('g', panel);
  plot.setAttribute('clip-path', 'url(#clip-' + key + ')');
  
  

  const bg = node('rect', plot);
  
  
  bg.setAttribute('x', left);
  bg.setAttribute('y', top);
  bg.setAttribute('width', right - left);
  bg.setAttribute('height', bottom - top);
  bg.setAttribute('fill', colorbarColors[5]);

  panelFills[idx].forEach(f => {
    const el = node('path', plot);
    
    
    el.setAttribute('d', smoothPath(project(col, row, f.slice(1)), true));
    el.setAttribute('fill', colorFor(f[0]));
  });

  coastlines.concat(borders).forEach(line => {
    const el = node('polyline', plot);
    
    
    el.setAttribute('points', project(col, row, line).map(p => p[0].toFixed(1) + ',' + p[1].toFixed(1)).join(' '));
    el.setAttribute('fill', 'none');
    el.setAttribute('stroke', '#666');
    el.setAttribute('stroke-width', '1.6');
    el.setAttribute('stroke-linejoin', 'round');
  });

  const equator = node('line', plot);
  
  
  equator.setAttribute('x1', left);
  equator.setAttribute('x2', right);
  equator.setAttribute('y1', yAxis(row, 0));
  equator.setAttribute('y2', yAxis(row, 0));
  equator.setAttribute('stroke', '#555');
  equator.setAttribute('stroke-width', '1.4');
  equator.setAttribute('stroke-dasharray', '5 4');

  const meridian = node('line', plot);
  
  
  meridian.setAttribute('x1', xAxis(col, 0));
  meridian.setAttribute('x2', xAxis(col, 0));
  meridian.setAttribute('y1', yAxis(row, 5));
  meridian.setAttribute('y2', bottom);
  meridian.setAttribute('stroke', '#555');
  meridian.setAttribute('stroke-width', '1.4');
  meridian.setAttribute('stroke-dasharray', '5 4');

  panelLow[idx].forEach(line => {
    const el = node('path', plot);
    
    
    el.setAttribute('d', contourPath(col, row, line).d);
    el.setAttribute('fill', 'none');
    el.setAttribute('stroke', '#a020f0');
    el.setAttribute('stroke-width', '1.8');
  });
  panelMjo[idx].forEach(line => {
    const el = node('path', plot);
    
    
    el.setAttribute('d', contourPath(col, row, line).d);
    el.setAttribute('fill', 'none');
    el.setAttribute('stroke', '#000');
    el.setAttribute('stroke-width', '1.8');
  });
  panelKelvin[idx].forEach(line => {
    const el = node('path', plot);
    
    
    el.setAttribute('d', contourPath(col, row, line).d);
    el.setAttribute('fill', 'none');
    el.setAttribute('stroke', '#0a14e6');
    el.setAttribute('stroke-width', '1.8');
  });
  panelEr[idx].forEach(line => {
    const el = node('path', plot);
    
    
    el.setAttribute('d', contourPath(col, row, line).d);
    el.setAttribute('fill', 'none');
    el.setAttribute('stroke', '#f00');
    el.setAttribute('stroke-width', '1.8');
  });

  const border = node('rect', panel);
  
  
  border.setAttribute('x', left);
  border.setAttribute('y', top);
  border.setAttribute('width', right - left);
  border.setAttribute('height', bottom - top);
  border.setAttribute('fill', 'none');
  border.setAttribute('stroke', '#000');
  border.setAttribute('stroke-width', '2.8');

  const ticks = node('path', panel);
  
  
  let td = '';
  for (let lon = LON_MIN; lon <= LON_MAX; lon += 10) {
    const major = lonMajorTicks.includes(lon);
    const len = major ? 6 : 3;
    const x = xAxis(col, lon).toFixed(1);
    td += 'M' + x + ' ' + (top - len) + 'V' + top + 'M' + x + ' ' + (bottom + len) + 'V' + bottom;
  }
  for (let lat = LAT_MIN; lat <= LAT_MAX; lat += 2) {
    const major = latMajorTicks.includes(lat);
    const len = major ? 4 : 2;
    const y = yAxis(row, lat).toFixed(1);
    td += 'M' + (left - len) + ' ' + y + 'H' + left + 'M' + (right + len) + ' ' + y + 'H' + right;
  }
  ticks.setAttribute('d', td);
  ticks.setAttribute('stroke', '#000');
  ticks.setAttribute('stroke-width', '1.6');
  ticks.setAttribute('fill', 'none');

  if (col === 0) {
    latMajorTicks.forEach((lat, i) => {
      const t = node('text', panel);
      
      
      t.setAttribute('x', 74);
      t.setAttribute('y', yAxis(row, lat) + 12);
      t.setAttribute('text-anchor', 'end');
      t.setAttribute('font-size', '34.6');
      t.textContent = latTickLabels[i];
    });
  }
  if (row === 3) {
    lonMajorTicks.forEach((lon, i) => {
      const t = node('text', panel);
      
      
      t.setAttribute('x', xAxis(col, lon));
      t.setAttribute('y', 939);
      t.setAttribute('text-anchor', 'middle');
      t.setAttribute('font-size', '34.6');
      t.textContent = lonTickLabels[i];
    });
  }
});

/* colourbar */
const barRoot = document.getElementById('colorbar');
const BAR_LEFT = 229.5, BAR_TOP = 1003, BAR_H = 23, BOX_W = 54.9;
colorbarColors.forEach((c, i) => {
  const r = node('rect', barRoot);
  
  
  r.setAttribute('x', BAR_LEFT + i * BOX_W);
  r.setAttribute('y', BAR_TOP);
  r.setAttribute('width', BOX_W);
  r.setAttribute('height', BAR_H);
  r.setAttribute('fill', c);
  r.setAttribute('stroke', '#000');
  r.setAttribute('stroke-width', '1.4');
});
colorbarTicks.forEach((v, i) => {
  const t = node('text', barRoot);
  
  
  t.setAttribute('x', BAR_LEFT + (i + 1) * BOX_W);
  t.setAttribute('y', 1055);
  t.setAttribute('text-anchor', 'middle');
  t.setAttribute('font-size', '30.4');
  t.textContent = String(v);
});
</script>
</body>
</html>
